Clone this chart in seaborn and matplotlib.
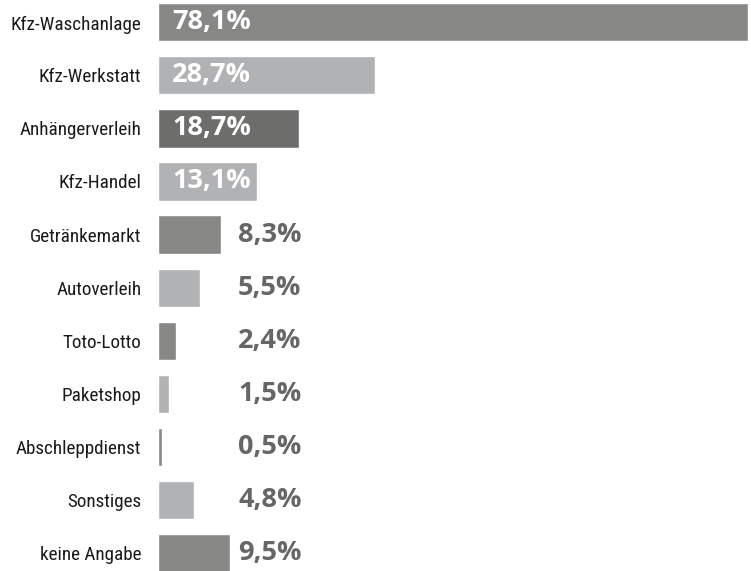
import seaborn as sns
import matplotlib.pyplot as plt
import pandas as pd

categories = ["Kfz-Waschanlage", "Kfz-Werkstatt", "Anhängerverleih", "Kfz-Handel",
              "Getränkemarkt", "Autoverleih", "Toto-Lotto", "Paketshop",
              "Abschleppdienst", "Sonstiges", "keine Angabe"]
values = [78.1, 28.7, 18.7, 13.1, 8.3, 5.5, 2.4, 1.5, 0.5, 4.8, 9.5]
labels = ["78,1%", "28,7%", "18,7%", "13,1%", "8,3%", "5,5%", "2,4%", "1,5%",
          "0,5%", "4,8%", "9,5%"]
colors = ["#878785", "#b1b2b4", "#6d6d6b", "#b1b2b4", "#878785", "#b1b2b4",
          "#878785", "#b1b2b4", "#878785", "#b1b2b4", "#878785"]

df = pd.DataFrame({"cat": categories, "val": values})

sns.set_style("white")
plt.rcParams['font.family'] = ['Roboto Condensed', 'Lato', 'DejaVu Sans']

fig = plt.figure(figsize=(7.51, 5.71), dpi=100)
ax = fig.add_axes([158 / 751, 0, 590 / 751, 1])

sns.barplot(data=df, y="cat", x="val", hue="cat", palette=colors,
            legend=False, width=0.717, saturation=1, ax=ax)

ax.set_xlim(0, 78.1)
ax.set_ylim(10.349, -0.4245)
ax.set_xlabel("")
ax.set_ylabel("")
ax.set_xticks([])
sns.despine(ax=ax, left=True, bottom=True)
ax.tick_params(axis="y", length=0, pad=12, labelsize=13.8, labelcolor="#1a1a1a")

for i, (v, lab) in enumerate(zip(values, labels)):
    if v > 10:
        ax.text(1.9, i, lab, va="center", ha="left", color="white",
                fontsize=19.5, fontweight="bold", family="Open Sans")
    else:
        ax.text(10.6, i, lab, va="center", ha="left", color="#666666",
                fontsize=19.5, fontweight="bold", family="Open Sans")

fig.savefig("out.png", dpi=100)
